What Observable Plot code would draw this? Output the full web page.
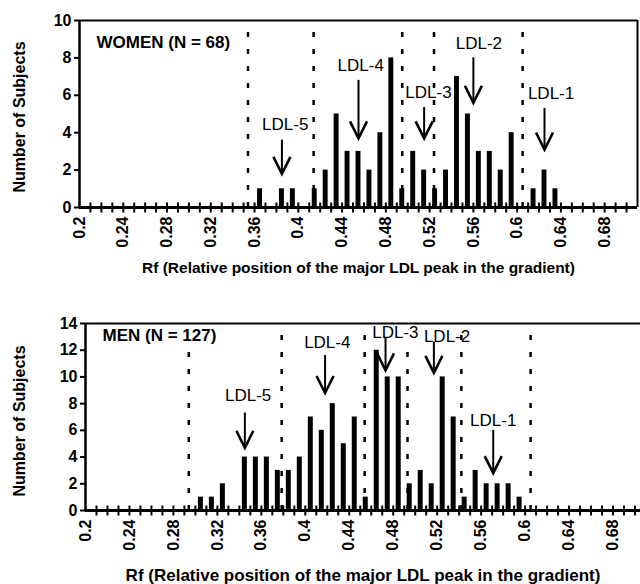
<!DOCTYPE html>
<html>
<head>
<meta charset="utf-8">
<script src="https://cdn.jsdelivr.net/npm/d3@7"></script>
<script src="https://cdn.jsdelivr.net/npm/@observablehq/plot@0.6"></script>
<style>
  body { margin: 0; background: #fff; }
  #chart { width: 640px; }
  #chart svg { display: block; }
</style>
</head>
<body>
<div id="chart"></div>
<script>
// ---- Data ----
// Bins are 0.01 wide; values are the lower edge of each Rf bin.
const womenRf = [0.36, 0.38, 0.39, 0.41, 0.42, 0.43, 0.44, 0.45, 0.46, 0.47, 0.48, 0.49, 0.50, 0.51, 0.52, 0.53, 0.54, 0.55, 0.56, 0.57, 0.58, 0.59, 0.61, 0.62, 0.63];
const womenN  = [1,    1,    1,    1,    2,    5,    3,    3,    2,    4,    8,    1,    3,    2,    1,    2,    7,    5,    3,    3,    2,    4,    1,    2,    1];

const menRf = [0.30, 0.31, 0.32, 0.34, 0.35, 0.36, 0.37, 0.38, 0.39, 0.40, 0.41, 0.42, 0.43, 0.44, 0.45, 0.46, 0.47, 0.48, 0.49, 0.50, 0.51, 0.52, 0.53, 0.54, 0.55, 0.56, 0.57, 0.58, 0.59];
const menN  = [1,    1,    2,    4,    4,    4,    3,    3,    4,    7,    6,    8,    5,    7,    1,    12,   10,   10,   2,    3,    2,    10,   7,    1,    3,    2,    2,    2,    1];

const xTickLabels = ["0.2", "0.24", "0.28", "0.32", "0.36", "0.4", "0.44", "0.48", "0.52", "0.56", "0.6", "0.64", "0.68"];
const womenYTicks = [0, 2, 4, 6, 8, 10];
const menYTicks = [0, 2, 4, 6, 8, 10, 12, 14];

const subclassNames = ["LDL-5", "LDL-4", "LDL-3", "LDL-2", "LDL-1"];

const womenDividerRf  = [0.354, 0.414, 0.495, 0.524, 0.605];
const womenDividerTop = [9.6, 10, 10, 9.6, 9.5];
const womenArrowRf    = [0.385, 0.455, 0.515, 0.56, 0.625];
const womenArrowTail  = [3.6, 6.8, 5.35, 8.0, 5.3];
const womenArrowTip   = [1.8, 3.7, 3.7, 5.6, 3.1];
const womenLabelRf    = [0.388, 0.457, 0.519, 0.565, 0.631];
const womenLabelY     = [4.45, 7.6, 6.15, 8.75, 6.1];

const menDividerRf  = [0.294, 0.3785, 0.454, 0.493, 0.542, 0.605];
const menDividerTop = [12, 14, 13.2, 12, 14, 14];
const menArrowRf    = [0.345, 0.418, 0.473, 0.517, 0.571];
const menArrowTail  = [7.3, 11.6, 12.9, 12.6, 6.0];
const menArrowTip   = [4.7, 8.8, 10.5, 10.3, 2.8];
const menLabelRf    = [0.348, 0.42, 0.482, 0.529, 0.571];
const menLabelY     = [8.6, 12.6, 13.3, 13.0, 6.7];

const xTitle = "Rf (Relative position of the major LDL peak in the gradient)";
const yTitle = "Number of Subjects";

// ---- Drawing ----
const binWidth = 0.01;
const crossTicks = d3.range(21, 71).map(i => i / 100);
const crossSymbol = { draw(ctx) { ctx.moveTo(0, -5); ctx.lineTo(0, 5); } };
const arrowHead = { draw(ctx) { ctx.moveTo(-8.5, -17); ctx.lineTo(0, 0); ctx.lineTo(8.5, -17); } };

function panel(cfg) {
  const bars = cfg.rf.map((rf, i) => ({rf, n: cfg.n[i]}));
  const dividers = cfg.dividerRf.map((rf, i) => ({rf, top: cfg.dividerTop[i]}));
  const arrows = subclassNames.map((name, i) => ({
    name, rf: cfg.arrowRf[i], tail: cfg.arrowTail[i], tip: cfg.arrowTip[i],
    lx: cfg.labelRf[i], ly: cfg.labelY[i]
  }));
  const marks = [
    Plot.ruleX(dividers, {x: "rf", y1: 0, y2: "top", stroke: "black", strokeWidth: 2.5, strokeDasharray: "5,12"}),
    Plot.rect(bars, {x1: "rf", x2: d => d.rf + binWidth, y1: 0, y2: "n", fill: "black", insetLeft: 3, insetRight: 3}),
    Plot.ruleX(arrows, {x: "rf", y1: "tail", y2: "tip", stroke: "black", strokeWidth: 2}),
    Plot.dot(arrows, {x: "rf", y: "tip", symbol: arrowHead, fill: "none", stroke: "black", strokeWidth: 2.6, strokeLinejoin: "miter"}),
    Plot.text(arrows, {x: "lx", y: "ly", text: "name", fontSize: 17, fontWeight: "normal", fill: "black"}),
    Plot.text([cfg.title], {frameAnchor: "top-left", textAnchor: "start", lineAnchor: "middle", dx: 17, dy: cfg.titleDy, fontSize: 17, fill: "black"}),
    Plot.ruleY([0], {stroke: "black", strokeWidth: 3}),
    Plot.dot(crossTicks, {x: d => d, y: 0, symbol: crossSymbol, fill: "none", stroke: "black", strokeWidth: 2}),
    Plot.ruleX([cfg.domain[0]], {stroke: "black", strokeWidth: 2.5}),
    Plot.ruleY([cfg.yTicks[cfg.yTicks.length - 1]], {stroke: "black", strokeWidth: 2}),
    Plot.axisY({ticks: cfg.yTicks, tickSize: 5, tickPadding: 3, label: null, fontSize: 16, strokeWidth: 2}),
    Plot.text(xTickLabels, {x: d => +d, y: 0, text: d => d, rotate: -90, textAnchor: "end", lineAnchor: "middle", dy: 9, fontSize: 16, fill: "black"}),
    Plot.text([yTitle], {frameAnchor: "left", rotate: -90, textAnchor: "middle", lineAnchor: "middle", dx: -cfg.marginLeft + 19, dy: cfg.yTitleDy, fontSize: 16, fill: "black"}),
    Plot.text([xTitle], {frameAnchor: "bottom", textAnchor: "middle", lineAnchor: "middle", dy: cfg.xTitleDy, fontSize: cfg.xTitleSize, fill: "black"})
  ];
  if (cfg.rightBorder) marks.push(Plot.ruleX([cfg.domain[1]], {stroke: "black", strokeWidth: 2}));
  return Plot.plot({
    width: 640,
    height: 292,
    marginLeft: cfg.marginLeft,
    marginRight: cfg.marginRight,
    marginTop: cfg.marginTop,
    marginBottom: cfg.marginBottom,
    x: {type: "linear", domain: cfg.domain, axis: null},
    y: {domain: [0, cfg.yTicks[cfg.yTicks.length - 1]]},
    style: {fontFamily: "'Liberation Sans', Arial, sans-serif", fontWeight: "bold", color: "black", background: "white", overflow: "visible"},
    marks
  });
}

const chart = document.getElementById("chart");
chart.append(panel({
  rf: womenRf, n: womenN, yTicks: womenYTicks,
  dividerRf: womenDividerRf, dividerTop: womenDividerTop,
  arrowRf: womenArrowRf, arrowTail: womenArrowTail, arrowTip: womenArrowTip,
  labelRf: womenLabelRf, labelY: womenLabelY,
  title: "WOMEN (N = 68)", titleDy: 22,
  domain: [0.2, 0.71], marginLeft: 79, marginRight: 3, marginTop: 20, marginBottom: 85,
  xTitleDy: 61, xTitleSize: 15.5, yTitleDy: 3, rightBorder: true
}));
chart.append(panel({
  rf: menRf, n: menN, yTicks: menYTicks,
  dividerRf: menDividerRf, dividerTop: menDividerTop,
  arrowRf: menArrowRf, arrowTail: menArrowTail, arrowTip: menArrowTip,
  labelRf: menLabelRf, labelY: menLabelY,
  title: "MEN (N = 127)", titleDy: 12,
  domain: [0.2, 0.705], marginLeft: 85, marginRight: 0, marginTop: 31, marginBottom: 74,
  xTitleDy: 65, xTitleSize: 17, yTitleDy: 4, rightBorder: false
}));
</script>
</body>
</html>
